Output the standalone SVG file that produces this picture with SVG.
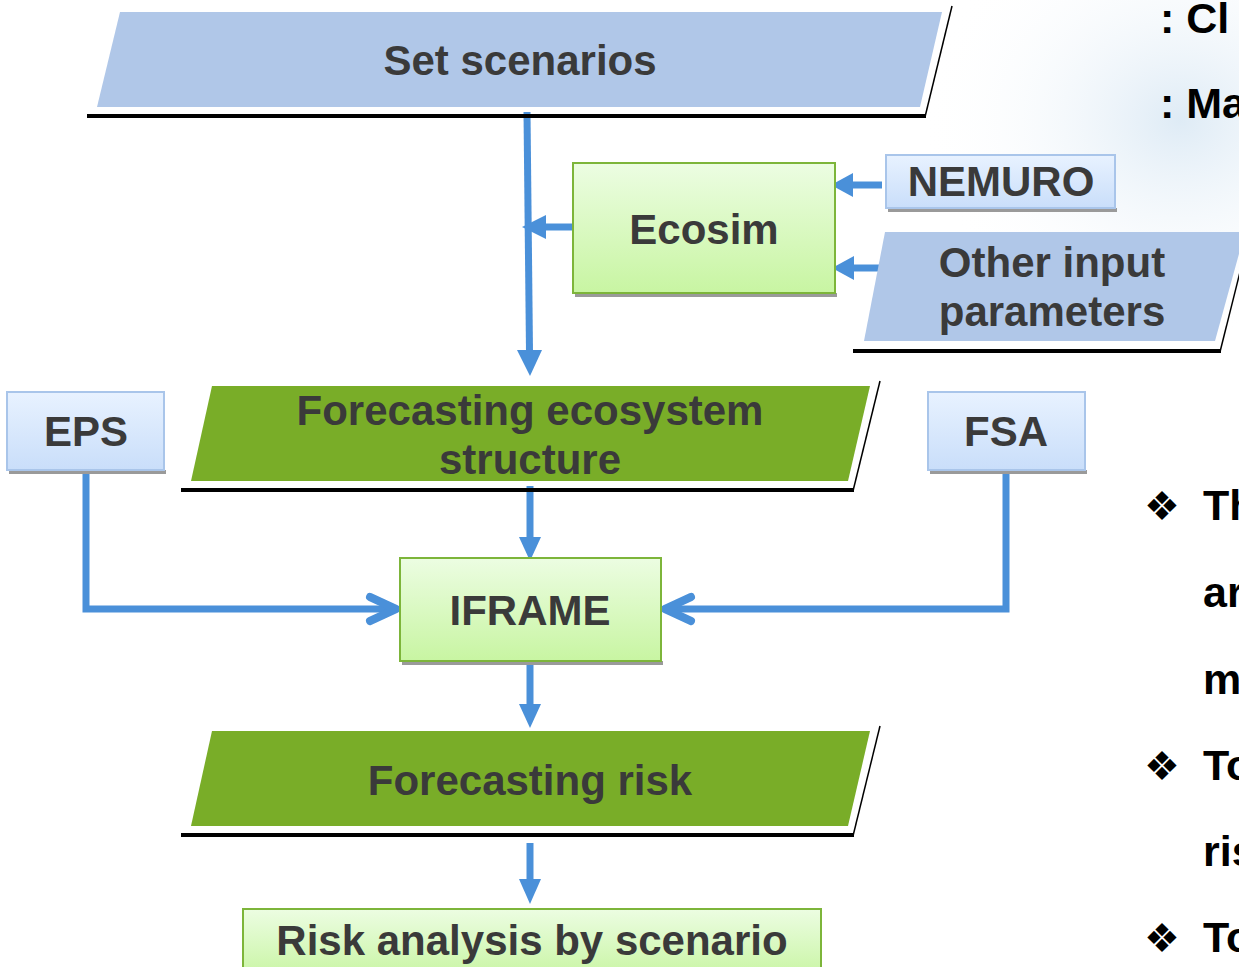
<svg xmlns="http://www.w3.org/2000/svg" width="1239" height="967" viewBox="0 0 1239 967">
<defs>
<style>
.t{font-family:"Liberation Sans",Arial,sans-serif;font-weight:bold;font-size:42px;fill:#3a3a3a;text-anchor:middle}
.r{font-family:"Liberation Sans",Arial,sans-serif;font-weight:bold;font-size:43px;fill:#000}
.bul{font-family:"DejaVu Sans",sans-serif;font-size:40px;fill:#000}
.gbox{fill:url(#gg);stroke:#7db53a;stroke-width:2}
.bbox{fill:url(#bg);stroke:#a9c5ea;stroke-width:2}
.shd{fill:#9a9a9a}
.gpar{fill:#79ad28}
.bpar{fill:#b0c7e8}
.edge{stroke:#000;stroke-width:4;fill:none}
.edge2{stroke:#000;stroke-width:1.5;fill:none}
.con{stroke:#4a90d9;stroke-width:7;fill:none}
.head{fill:#4a90d9}
.chev{fill:none;stroke:#4a90d9;stroke-width:8;stroke-linecap:round;stroke-linejoin:round}
</style>
<linearGradient id="gg" x1="0" y1="0" x2="0" y2="1"><stop offset="0" stop-color="#ecfde2"/><stop offset="1" stop-color="#c8f5a2"/></linearGradient>
<linearGradient id="bg" x1="0" y1="0" x2="0" y2="1"><stop offset="0" stop-color="#e8f2ff"/><stop offset="1" stop-color="#c9defa"/></linearGradient>
<radialGradient id="cloud" cx="0.5" cy="0.5" r="0.5"><stop offset="0" stop-color="#d6e6f3" stop-opacity="0.8"/><stop offset="1" stop-color="#ffffff" stop-opacity="0"/></radialGradient>
</defs>
<rect width="1239" height="967" fill="#ffffff"/>
<ellipse cx="1180" cy="120" rx="260" ry="220" fill="url(#cloud)"/>

<g id="connectors">
<path class="con" d="M527,112 L529.5,352"/>
<polygon class="head" points="517,350 542,350 530,376"/>
<path class="con" d="M573,227 L545,227"/>
<polygon class="head" points="546,215 546,239 522,227"/>
<path class="con" d="M882,185 L852,185"/>
<polygon class="head" points="853,173 853,197 831,185"/>
<path class="con" d="M884,268 L853,268"/>
<polygon class="head" points="854,256 854,280 832,268"/>
<path class="con" d="M530,486 L530,538"/>
<polygon class="head" points="519,537 541,537 530,561"/>
<path class="con" d="M530,665 L530,705"/>
<polygon class="head" points="519,704 541,704 530,728"/>
<path class="con" d="M530,843 L530,880"/>
<polygon class="head" points="519,879 541,879 530,904"/>
<path class="con" d="M86,470 V609 H394"/>
<path class="chev" d="M370,597 L396,609 L370,621"/>
<path class="con" d="M1006,470 V609 H667"/>
<path class="chev" d="M691,597 L665,609 L691,621"/>
</g>

<g id="set-scenarios">
<line class="edge" x1="87" y1="116" x2="926" y2="116"/>
<line class="edge2" x1="925" y1="117" x2="952" y2="6"/>
<polygon class="bpar" points="120,12 942,12 920,107 97,107"/>
<text class="t" x="520" y="75">Set scenarios</text>
</g>

<g id="ecosim">
<rect class="shd" x="575" y="293" width="262" height="4"/>
<rect class="gbox" x="573" y="163" width="262" height="130"/>
<text class="t" x="704" y="244">Ecosim</text>
</g>

<g id="nemuro">
<rect class="shd" x="888" y="208" width="229" height="4"/>
<rect class="bbox" x="886" y="155" width="229" height="53"/>
<text class="t" x="1001" y="196">NEMURO</text>
</g>

<g id="other-input">
<line class="edge" x1="853" y1="351" x2="1221" y2="351"/>
<line class="edge2" x1="1220" y1="352" x2="1246" y2="248"/>
<polygon class="bpar" points="885,232 1245,232 1215,341 864,341"/>
<text class="t" x="1052" y="277">Other input</text>
<text class="t" x="1052" y="326">parameters</text>
</g>

<g id="eps">
<rect class="shd" x="9" y="470" width="157" height="4"/>
<rect class="bbox" x="7" y="392" width="157" height="78"/>
<text class="t" x="86" y="446">EPS</text>
</g>

<g id="fsa">
<rect class="shd" x="930" y="470" width="157" height="4"/>
<rect class="bbox" x="928" y="392" width="157" height="78"/>
<text class="t" x="1006" y="446">FSA</text>
</g>

<g id="forecasting-ecosystem">
<line class="edge" x1="181" y1="490" x2="854" y2="490"/>
<line class="edge2" x1="853" y1="491" x2="880" y2="381"/>
<polygon class="gpar" points="212,386 870,386 848,481 191,481"/>
<text class="t" x="530" y="425">Forecasting ecosystem</text>
<text class="t" x="530" y="474">structure</text>
</g>

<g id="iframe">
<rect class="shd" x="402" y="661" width="261" height="4"/>
<rect class="gbox" x="400" y="558" width="261" height="103"/>
<text class="t" x="530" y="625">IFRAME</text>
</g>

<g id="forecasting-risk">
<line class="edge" x1="181" y1="835" x2="854" y2="835"/>
<line class="edge2" x1="853" y1="836" x2="880" y2="726"/>
<polygon class="gpar" points="212,731 870,731 848,826 191,826"/>
<text class="t" x="530" y="795">Forecasting risk</text>
</g>

<g id="risk-analysis">
<rect class="gbox" x="243" y="909" width="578" height="70"/>
<text class="t" x="532" y="955">Risk analysis by scenario</text>
</g>

<g id="side-text">
<text class="r" x="1160" y="33">: Cl</text>
<text class="r" x="1160" y="118">: Ma</text>
<text class="bul" x="1144" y="520">❖</text>
<text class="r" x="1203" y="520">Th</text>
<text class="r" x="1203" y="607">ar</text>
<text class="r" x="1203" y="694">m</text>
<text class="bul" x="1144" y="780">❖</text>
<text class="r" x="1203" y="780">To</text>
<text class="r" x="1203" y="866">ris</text>
<text class="bul" x="1144" y="952">❖</text>
<text class="r" x="1203" y="952">To</text>
</g>
</svg>
